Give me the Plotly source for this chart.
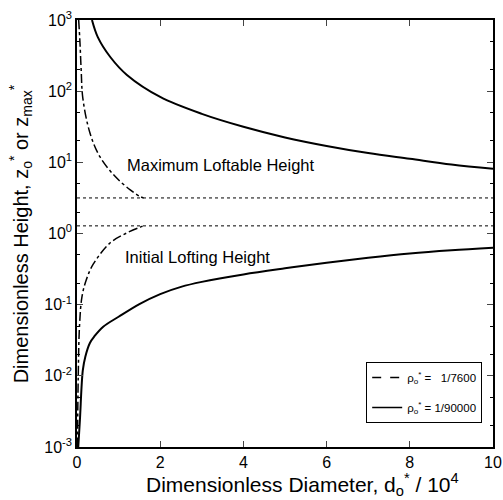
import plotly.graph_objects as go
import numpy as np

# ρ*o = 1/90000 : maximum loftable height (solid, upper)
x_max_90000 = [0.36, 0.5, 0.8, 1.2, 2.0, 3.0, 4.0, 5.0, 6.0, 7.0, 8.0, 9.0, 10.0]
z_max_90000 = [1000, 575, 302, 169, 83, 48, 31.6, 22.4, 17.0, 13.5, 11.2, 9.3, 8.1]

# ρ*o = 1/90000 : initial lofting height (solid, lower)
x_init_90000 = [0.03, 0.07, 0.14, 0.2, 0.31, 0.42, 0.63, 1.0, 1.5, 2.0, 2.5, 3.0, 4.0, 5.0, 6.0,
                7.0, 8.0, 9.0, 10.0]
z_init_90000 = [0.001, 0.0024, 0.012, 0.0186, 0.029, 0.036, 0.049, 0.0676, 0.102, 0.141, 0.178,
                0.209, 0.266, 0.324, 0.389, 0.457, 0.525, 0.582, 0.631]

# ρ*o = 1/7600 : maximum loftable height (dash-dot, upper)
x_max_7600 = [0.04, 0.07, 0.1, 0.14, 0.31, 0.55, 0.92, 1.28, 1.52, 1.6]
z_max_7600 = [1000, 500, 200, 80, 26, 12, 6.3, 4.1, 3.3, 3.16]

# ρ*o = 1/7600 : initial lofting height (dash-dot, lower)
x_init_7600 = [0.01, 0.03, 0.06, 0.12, 0.22, 0.39, 0.8, 1.2, 1.52, 1.62]
z_init_7600 = [0.001, 0.01, 0.05, 0.13, 0.22, 0.37, 0.74, 1.02, 1.23, 1.28]

# dotted asymptotes
asymptotes = [3.16, 1.28]
x_range = [0, 10]

x_ticks = [0, 2, 4, 6, 8, 10]
y_ticks = [1e-3, 1e-2, 1e-1, 1e0, 1e1, 1e2, 1e3]
y_ticktext = ["10<sup>-3</sup>", "10<sup>-2</sup>", "10<sup>-1</sup>", "10<sup>0</sup>",
              "10<sup>1</sup>", "10<sup>2</sup>", "10<sup>3</sup>"]

legend_labels = ["ρ<sub>o</sub><sup>*</sup> =   1/7600", "ρ<sub>o</sub><sup>*</sup> = 1/90000"]

FONT = "Liberation Sans, Arial, Helvetica, sans-serif"

fig = go.Figure()

for a in asymptotes:
    fig.add_trace(go.Scatter(x=x_range, y=[a, a], mode="lines",
                             line=dict(color="black", width=1, dash="dot"),
                             showlegend=False, hoverinfo="skip"))

for xs, ys in [(x_max_7600, z_max_7600), (x_init_7600, z_init_7600)]:
    fig.add_trace(go.Scatter(x=xs, y=ys, mode="lines", line_shape="spline",
                             line=dict(color="black", width=1.5, dash="dashdot"),
                             showlegend=False))

for xs, ys in [(x_max_90000, z_max_90000), (x_init_90000, z_init_90000)]:
    fig.add_trace(go.Scatter(x=xs, y=ys, mode="lines", line_shape="spline",
                             line=dict(color="black", width=2),
                             showlegend=False))

# legend entries
fig.add_trace(go.Scatter(x=[None], y=[None], mode="lines", legendgroup="a",
                         line=dict(color="black", width=1.5, dash="dash"),
                         name=legend_labels[0]))
fig.add_trace(go.Scatter(x=[None], y=[None], mode="lines", legendgroup="b",
                         line=dict(color="black", width=1.5),
                         name=legend_labels[1]))

fig.add_annotation(x=1.16, y=np.log10(9.2), text="Maximum Loftable Height",
                   showarrow=False, xanchor="left", yanchor="middle",
                   font=dict(size=16.5, color="black", family=FONT))
fig.add_annotation(x=1.11, y=np.log10(0.47), text="Initial Lofting Height",
                   showarrow=False, xanchor="left", yanchor="middle",
                   font=dict(size=16.5, color="black", family=FONT))

# axis titles
fig.add_annotation(xref="paper", yref="paper", x=0.543, y=-0.088,
                   text="Dimensionless Diameter, d<sub>o</sub><sup>*</sup> / 10<sup>4</sup>",
                   showarrow=False, xanchor="center", yanchor="middle",
                   font=dict(size=21, color="black", family=FONT))
fig.add_annotation(xref="paper", yref="paper", x=-0.135, y=0.50,
                   text="Dimensionless Height, z<sub>o</sub><sup>*</sup> or z<sub>max</sub><sup>*</sup>",
                   showarrow=False, xanchor="center", yanchor="middle", textangle=-90,
                   font=dict(size=20, color="black", family=FONT))

fig.update_layout(
    width=503, height=500, autosize=False,
    margin=dict(l=77, r=10, t=20, b=53),
    plot_bgcolor="white", paper_bgcolor="white",
    font=dict(family=FONT, color="black"),
    legend=dict(x=0.974, y=0.199, xanchor="right", yanchor="top",
                bgcolor="white", bordercolor="black", borderwidth=1,
                font=dict(size=11.5, family=FONT), tracegroupgap=11, itemwidth=30),
    xaxis=dict(range=[0, 10], tickvals=x_ticks, ticks="inside", ticklen=6,
               showline=True, linecolor="black", linewidth=1.5, mirror="ticks",
               showgrid=False, zeroline=False, automargin=False,
               tickfont=dict(size=16, family=FONT)),
    yaxis=dict(type="log", range=[-3, 3], tickvals=y_ticks, ticktext=y_ticktext,
               ticks="inside", ticklen=6,
               minor=dict(ticks="inside", ticklen=3, tickcolor="black"),
               showline=True, linecolor="black", linewidth=1.5, mirror="ticks",
               showgrid=False, zeroline=False, automargin=False,
               tickfont=dict(size=16, family=FONT)),
)

post = ("document.body.style.margin='0';document.body.style.overflow='hidden';"
        "var gd=document.getElementById('{plot_id}');"
        "Plotly.relayout(gd,{width:503,height:500});")

fig.write_html("out.html", config={"responsive": False, "displayModeBar": False}, post_script=post)
